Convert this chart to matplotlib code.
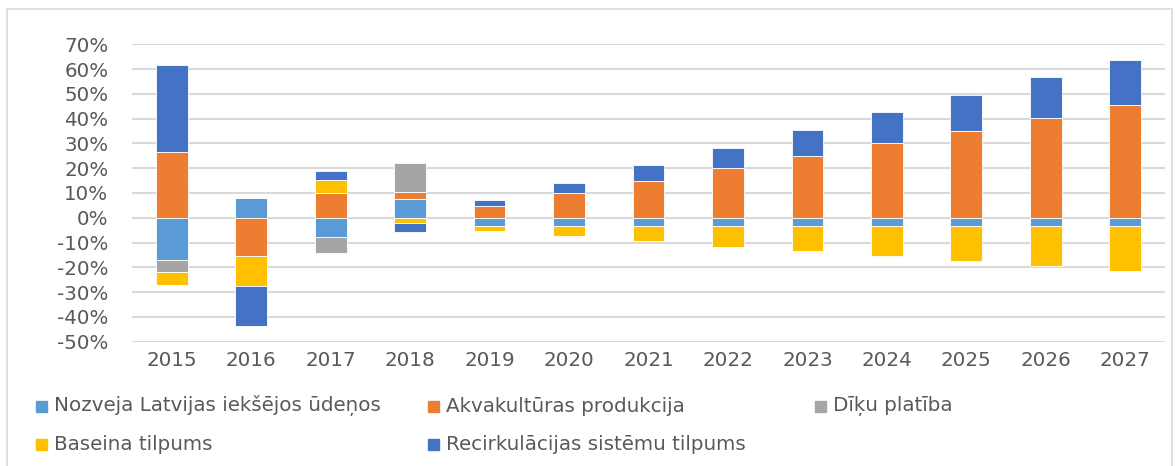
import matplotlib
matplotlib.use("Agg")
import matplotlib.pyplot as plt
from matplotlib.patches import Rectangle
from matplotlib.ticker import FuncFormatter, MultipleLocator
import numpy as np

years = ["2015", "2016", "2017", "2018", "2019", "2020", "2021",
         "2022", "2023", "2024", "2025", "2026", "2027"]

series_names = [
    "Nozveja Latvijas iekšējos ūdeņos",
    "Akvakultūras produkcija",
    "Dīķu platība",
    "Baseina tilpums",
    "Recirkulācijas sistēmu tilpums",
]

# percentage change by component
nozveja = [-17.1, 7.8, -7.9, 7.5, -3.5, -3.5, -3.5, -3.5, -3.5, -3.5, -3.5, -3.5, -3.5]
akvakultura = [26.6, -15.3, 10.1, 3.0, 4.7, 10.1, 14.9, 20.1, 24.9, 30.3, 35.1, 40.1, 45.4]
diki = [-4.7, 0.0, -6.2, 11.7, 0.0, 0.0, 0.0, 0.0, 0.0, 0.0, 0.0, 0.0, 0.0]
baseins = [-5.4, -12.1, 5.2, -2.0, -2.0, -3.9, -5.8, -8.2, -10.1, -12.1, -14.0, -16.0, -17.9]
recirkulacija = [35.0, -16.3, 3.5, -3.9, 2.4, 3.8, 6.4, 7.9, 10.5, 12.4, 14.4, 16.6, 18.2]

colors = ["#5B9BD5", "#ED7D31", "#A5A5A5", "#FFC000", "#4472C4"]
text_color = "#595959"
font_size = 14.3

plt.rcParams["font.family"] = ["DejaVu Sans"]

fig = plt.figure(figsize=(11.76, 4.66), dpi=100)
ax = fig.add_axes([132 / 1176, 1 - 341.7 / 466, 1033 / 1176, (341.7 - 44.3) / 466])

x = np.arange(len(years))
pos_base = np.zeros(len(years))
neg_base = np.zeros(len(years))
for vals, col in zip([nozveja, akvakultura, diki, baseins, recirkulacija], colors):
    v = np.array(vals)
    bottoms = np.where(v >= 0, pos_base, neg_base)
    ax.bar(x, v, bottom=bottoms, width=0.4, color=col,
           edgecolor="white", linewidth=0.6, zorder=3)
    pos_base += np.where(v >= 0, v, 0)
    neg_base += np.where(v < 0, v, 0)

ax.set_xlim(-0.5, len(years) - 0.5)
ax.set_ylim(-50, 70)
ax.yaxis.set_major_locator(MultipleLocator(10))
ax.yaxis.set_major_formatter(FuncFormatter(lambda v, p: f"{v:.0f}%"))
ax.set_xticks(x)
ax.set_xticklabels(years)
ax.grid(axis="y", color="#D9D9D9", linewidth=1.5, zorder=0)
for s in ax.spines.values():
    s.set_visible(False)
ax.tick_params(axis="both", length=0, labelsize=font_size, colors=text_color)
ax.tick_params(axis="y", pad=17)
ax.tick_params(axis="x", pad=7)

# chart frame
fig.patches.append(Rectangle((7 / 1176, -0.05), (1172 - 7) / 1176, 1.05 - 9 / 466,
                             transform=fig.transFigure, fill=False,
                             edgecolor="#D9D9D9", linewidth=1.2))

# legend laid out in two rows
entries = [
    (0, 36, 406), (1, 428, 406), (2, 815, 406),
    (3, 36, 444), (4, 428, 444),
]
for idx, px, py in entries:
    sz = 11
    fig.patches.append(Rectangle((px / 1176, 1 - (py + sz / 2) / 466), sz / 1176, sz / 466,
                                 transform=fig.transFigure, color=colors[idx]))
    fig.text((px + sz + 7) / 1176, 1 - py / 466, series_names[idx],
             fontsize=font_size, color=text_color, va="center", ha="left")

fig.savefig("out.png", dpi=100)
